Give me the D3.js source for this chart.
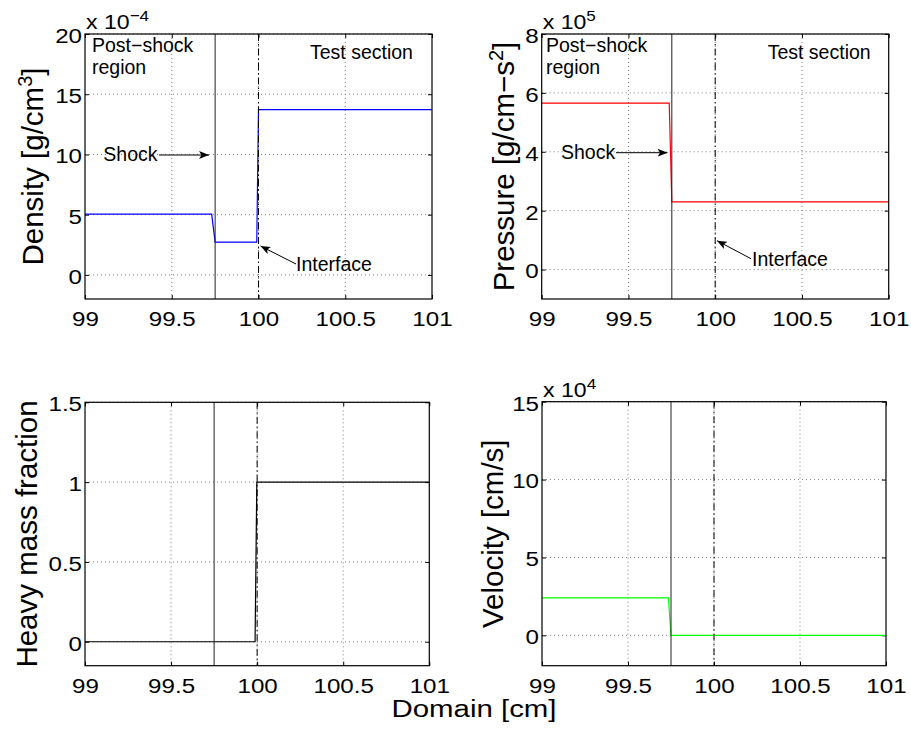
<!DOCTYPE html>
<html>
<head>
<meta charset="utf-8">
<script src="https://cdn.jsdelivr.net/npm/d3@7"></script>
<style>
  body { margin: 0; background: #fff; }
  text { font-family: "Liberation Sans", Arial, Helvetica, sans-serif; fill: #000; }
</style>
</head>
<body>
<script>
const W = 911;
const H = 730;

// shared x axis (cm)
const xTicks = [99, 99.5, 100, 100.5, 101];
const xDomain = [99, 101];
const shockX = 99.75;
const interfaceX = 100;

// density, plotted in units of 1e-4 g/cm^3
const densityX = [99, 99.73, 99.75, 99.99, 100.0, 101];
const densityY = [5.05, 5.05, 2.72, 2.72, 13.72, 13.72];
const densityTicks = [0, 5, 10, 15, 20];

// pressure, units of 1e5
const pressureX = [99, 99.735, 99.75, 101];
const pressureY = [5.65, 5.65, 2.3, 2.3];
const pressureTicks = [0, 2, 4, 6, 8];

// heavy mass fraction
const heavyX = [99, 99.988, 99.998, 101];
const heavyY = [0, 0, 1, 1];
const heavyTicks = [0, 0.5, 1, 1.5];

// velocity, units of 1e4 cm/s
const velocityX = [99, 99.735, 99.75, 101];
const velocityY = [2.4, 2.4, 0, 0];
const velocityTicks = [0, 5, 10, 15];

const postShock = ["Post\u2212shock", "region"];
const testSection = "Test section";
const shockText = "Shock";
const interfaceText = "Interface";
const xLabel = "Domain [cm]";

const tickScale = 1.15; // tick labels look stretched sideways in the original

const svg = d3.select("body").append("svg")
  .attr("width", W)
  .attr("height", H);

const defs = svg.append("defs");
defs.append("marker")
  .attr("id", "arrow")
  .attr("markerUnits", "userSpaceOnUse")
  .attr("markerWidth", 11)
  .attr("markerHeight", 8)
  .attr("refX", 10)
  .attr("refY", 4)
  .attr("orient", "auto")
  .append("path")
  .attr("d", "M0,0 L10,4 L0,8 L2.5,4 Z")
  .attr("fill", "#000");

const panels = [
  {
    left: 85, right: 432, top: 34, bottom: 299,
    yDomain: [-2, 20], ticks: densityTicks,
    xs: densityX, ys: densityY, color: "#0000ff",
    label: ["Density [g/cm", "3", "]"], labelX: 43,
    exp: "\u22124",
    notes: {
      post: [92, 51.7, 74], test: [310, 59.3],
      shock: [103.3, 161], shockArrow: [159, 155, 209, 155],
      inter: [296, 270.7], interArrow: [296, 264, 260.5, 246]
    }
  },
  {
    left: 541.7, right: 888.7, top: 34, bottom: 299,
    yDomain: [-1, 8], ticks: pressureTicks,
    xs: pressureX, ys: pressureY, color: "#ff0000",
    label: ["Pressure [g/cm\u2212s", "2", "]"], labelX: 514,
    exp: "5",
    notes: {
      post: [546, 51.7, 74], test: [767.7, 59.3],
      shock: [561, 159], shockArrow: [616, 152.7, 667.5, 152.7],
      inter: [752, 265.7], interArrow: [751, 258.7, 717, 240.7]
    }
  },
  {
    left: 85, right: 429.3, top: 402.3, bottom: 665.7,
    yDomain: [-0.15, 1.5], ticks: heavyTicks,
    xs: heavyX, ys: heavyY, color: "#000000",
    label: ["Heavy mass fraction"], labelX: 37
  },
  {
    left: 542, right: 886, top: 401.7, bottom: 665.7,
    yDomain: [-1.95, 15], ticks: velocityTicks,
    xs: velocityX, ys: velocityY, color: "#00ff00",
    label: ["Velocity [cm/s]"], labelX: 503,
    exp: "4"
  }
];

panels.forEach(drawPanel);

svg.append("text")
  .attr("transform", "translate(474,717) scale(1.2,1)")
  .attr("text-anchor", "middle")
  .style("font-size", "24.5px")
  .text(xLabel);

function drawPanel(p) {
  const x = d3.scaleLinear().domain(xDomain).range([p.left, p.right]);
  const y = d3.scaleLinear().domain(p.yDomain).range([p.bottom, p.top]);
  const g = svg.append("g");

  // dotted grid
  g.append("g").selectAll("line")
    .data(xTicks.slice(1, -1))
    .enter().append("line")
    .attr("x1", d => x(d)).attr("x2", d => x(d))
    .attr("y1", p.top).attr("y2", p.bottom)
    .attr("stroke", "#808080").attr("stroke-dasharray", "1,3");
  g.append("g").selectAll("line")
    .data(p.ticks)
    .enter().append("line")
    .attr("x1", p.left).attr("x2", p.right)
    .attr("y1", d => y(d)).attr("y2", d => y(d))
    .attr("stroke", "#808080").attr("stroke-dasharray", "1,3");

  // axes, ticks point inward like matlab
  const bottomAx = g.append("g")
    .attr("transform", "translate(0," + p.bottom + ")")
    .call(d3.axisBottom(x).tickValues(xTicks).tickFormat(d3.format("")).tickSizeInner(-4).tickSizeOuter(0).tickPadding(12));
  bottomAx.selectAll("text").attr("transform", "scale(" + tickScale + ",1)");

  g.append("g")
    .attr("transform", "translate(0," + p.top + ")")
    .call(d3.axisTop(x).tickValues(xTicks).tickFormat("").tickSizeInner(-4).tickSizeOuter(0));

  const leftAx = g.append("g")
    .attr("transform", "translate(" + p.left + ",0)")
    .call(d3.axisLeft(y).tickValues(p.ticks).tickFormat(d3.format("")).tickSizeInner(-4).tickSizeOuter(0));
  leftAx.selectAll("text")
    .attr("x", -3 / tickScale)
    .attr("dy", "0.4em")
    .attr("transform", "scale(" + tickScale + ",1)");

  g.append("g")
    .attr("transform", "translate(" + p.right + ",0)")
    .call(d3.axisRight(y).tickValues(p.ticks).tickFormat("").tickSizeInner(-4).tickSizeOuter(0));

  g.selectAll(".domain").remove();
  g.selectAll(".tick text").style("font-size", "21px").style("font-family", null);
  g.selectAll(".tick line").attr("stroke", "#000");

  // data curve
  const pts = p.xs.map((v, i) => [v, p.ys[i]]);
  g.append("path")
    .datum(pts)
    .attr("fill", "none")
    .attr("stroke", p.color)
    .attr("stroke-width", 1.2)
    .attr("d", d3.line().x(d => x(d[0])).y(d => y(d[1])));

  // shock and interface markers
  g.append("line")
    .attr("x1", x(shockX)).attr("x2", x(shockX))
    .attr("y1", p.top).attr("y2", p.bottom)
    .attr("stroke", "#222").attr("stroke-width", 1);
  g.append("line")
    .attr("x1", x(interfaceX)).attr("x2", x(interfaceX))
    .attr("y1", p.top).attr("y2", p.bottom)
    .attr("stroke", "#000").attr("stroke-width", 1)
    .attr("stroke-dasharray", "7,3,1.5,3");

  // box
  g.append("rect")
    .attr("x", p.left).attr("y", p.top)
    .attr("width", p.right - p.left).attr("height", p.bottom - p.top)
    .attr("fill", "none").attr("stroke", "#000").attr("stroke-width", 1.2);

  // y label
  const lab = g.append("text")
    .attr("transform", "translate(" + p.labelX + "," + (p.top + p.bottom) / 2 + ") rotate(-90)")
    .attr("text-anchor", "middle")
    .style("font-size", "29.5px");
  lab.append("tspan").text(p.label[0]);
  if (p.label.length > 1) {
    lab.append("tspan").attr("dy", -11).style("font-size", "20px").text(p.label[1]);
    lab.append("tspan").attr("dy", 11).text(p.label[2]);
  }

  // exponent
  if (p.exp) {
    const e = g.append("text")
      .attr("transform", "translate(" + (p.left + 1) + "," + (p.top - 5) + ") scale(1.1,1)")
      .style("font-size", "21px");
    e.append("tspan").text("x 10");
    e.append("tspan").attr("dy", -8).style("font-size", "15.5px").text(p.exp);
  }

  if (p.notes) {
    const n = p.notes;
    const ann = g.append("g").style("font-size", "19.5px");
    ann.append("text").attr("x", n.post[0]).attr("y", n.post[1]).text(postShock[0]);
    ann.append("text").attr("x", n.post[0]).attr("y", n.post[2]).text(postShock[1]);
    ann.append("text").attr("x", n.test[0]).attr("y", n.test[1]).text(testSection);
    ann.append("text").attr("x", n.shock[0]).attr("y", n.shock[1]).text(shockText);
    ann.append("text").attr("x", n.inter[0]).attr("y", n.inter[1]).text(interfaceText);
    [n.shockArrow, n.interArrow].forEach(a => {
      ann.append("line")
        .attr("x1", a[0]).attr("y1", a[1]).attr("x2", a[2]).attr("y2", a[3])
        .attr("stroke", "#000").attr("stroke-width", 1)
        .attr("marker-end", "url(#arrow)");
    });
  }
}
</script>
</body>
</html>
